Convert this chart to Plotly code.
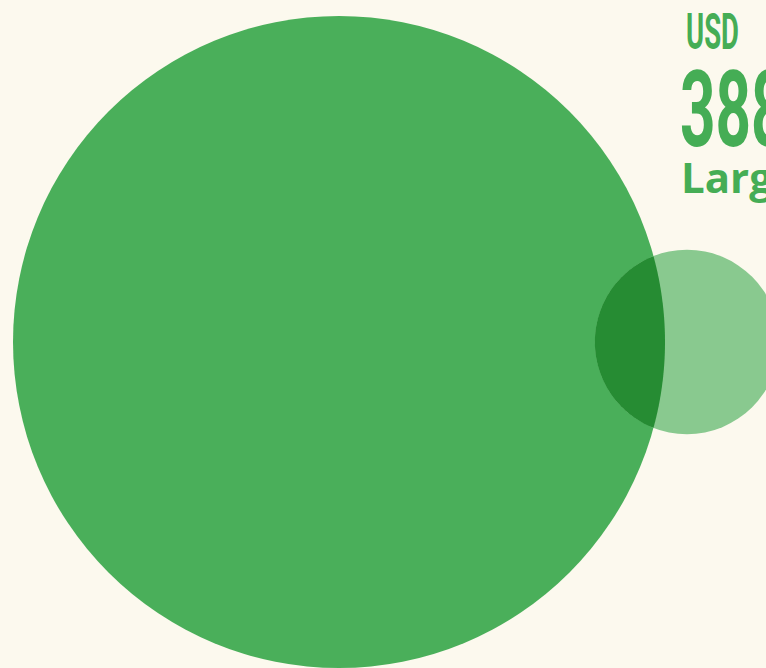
import numpy as np
import plotly.graph_objects as go

# ---- data ----
labels = ["Largest", "Other"]
values = [388, 31]          # USD (value shown for the largest bubble)
currency = "USD"
headline_value = "388"
headline_label = "Largest"

# ---- style / layout ----
W, H = 766, 668
BG = "#FCF9EE"
GREEN = "#4AAF5A"
LIGHT = "#89C98F"
OVERLAP = "#268C33"
TEXT = "#45AD55"

scale = 326 / np.sqrt(values[0])
radii = [scale * np.sqrt(v) for v in values]
cy = 342
centers = [13 + radii[0], 687]

fig = go.Figure()
shapes = []
fills = [GREEN, LIGHT]
for (cx, r, col) in zip(centers, radii, fills):
    shapes.append(dict(type="circle", xref="x", yref="y",
                       x0=cx - r, x1=cx + r, y0=cy - r, y1=cy + r,
                       fillcolor=col, line=dict(width=0), layer="above"))

# overlap lens (darker multiply-like region)
R, r = radii
d = centers[1] - centers[0]
a = (d**2 + R**2 - r**2) / (2 * d)
h = np.sqrt(max(R**2 - a**2, 0))
ang_big = np.arctan2(h, a)
ang_small = np.arctan2(h, a - d)
pts = []
for t in np.linspace(-ang_big, ang_big, 80):
    pts.append((centers[0] + R * np.cos(t), cy + R * np.sin(t)))
for t in np.linspace(ang_small, 2 * np.pi - ang_small, 80):
    pts.append((centers[1] + r * np.cos(t), cy + r * np.sin(t)))
path = "M " + " L ".join(f"{x:.2f},{y:.2f}" for x, y in pts) + " Z"
shapes.append(dict(type="path", xref="x", yref="y", path=path,
                   fillcolor=OVERLAP, line=dict(width=0), layer="above"))

annotations = [
    dict(x=684, y=63, xref="x", yref="y", text=f"<b>{currency}</b>", showarrow=False,
         xanchor="left", yanchor="bottom",
         font=dict(family="Roboto", size=50, color=TEXT)),
    dict(x=678, y=174, xref="x", yref="y", text=f"<b>{headline_value}</b>", showarrow=False,
         xanchor="left", yanchor="bottom",
         font=dict(family="Roboto", size=105, color=TEXT)),
    dict(x=679, y=207, xref="x", yref="y", text=f"<b>{headline_label}</b>", showarrow=False,
         xanchor="left", yanchor="bottom",
         font=dict(family="Open Sans", size=42, color=TEXT)),
]

fig.update_layout(
    width=W, height=H,
    margin=dict(l=0, r=0, t=0, b=0),
    paper_bgcolor=BG, plot_bgcolor=BG,
    shapes=shapes, annotations=annotations,
    xaxis=dict(range=[0, W], visible=False, fixedrange=True),
    yaxis=dict(range=[H, 0], visible=False, fixedrange=True),
    showlegend=False,
)

post = """
document.body.style.margin='0';
document.body.style.background='%s';
var ts = document.querySelectorAll('.annotation-text');
var sx = [0.55, 0.59];
ts.forEach(function(t, i){
  if (i < 2) {
    t.style.transformBox = 'fill-box';
    t.style.transformOrigin = '0 0';
    t.style.transform = 'scaleX(' + sx[i] + ')';
  }
});
""" % BG

fig.write_html("out.html", post_script=post, config={"displayModeBar": False})
